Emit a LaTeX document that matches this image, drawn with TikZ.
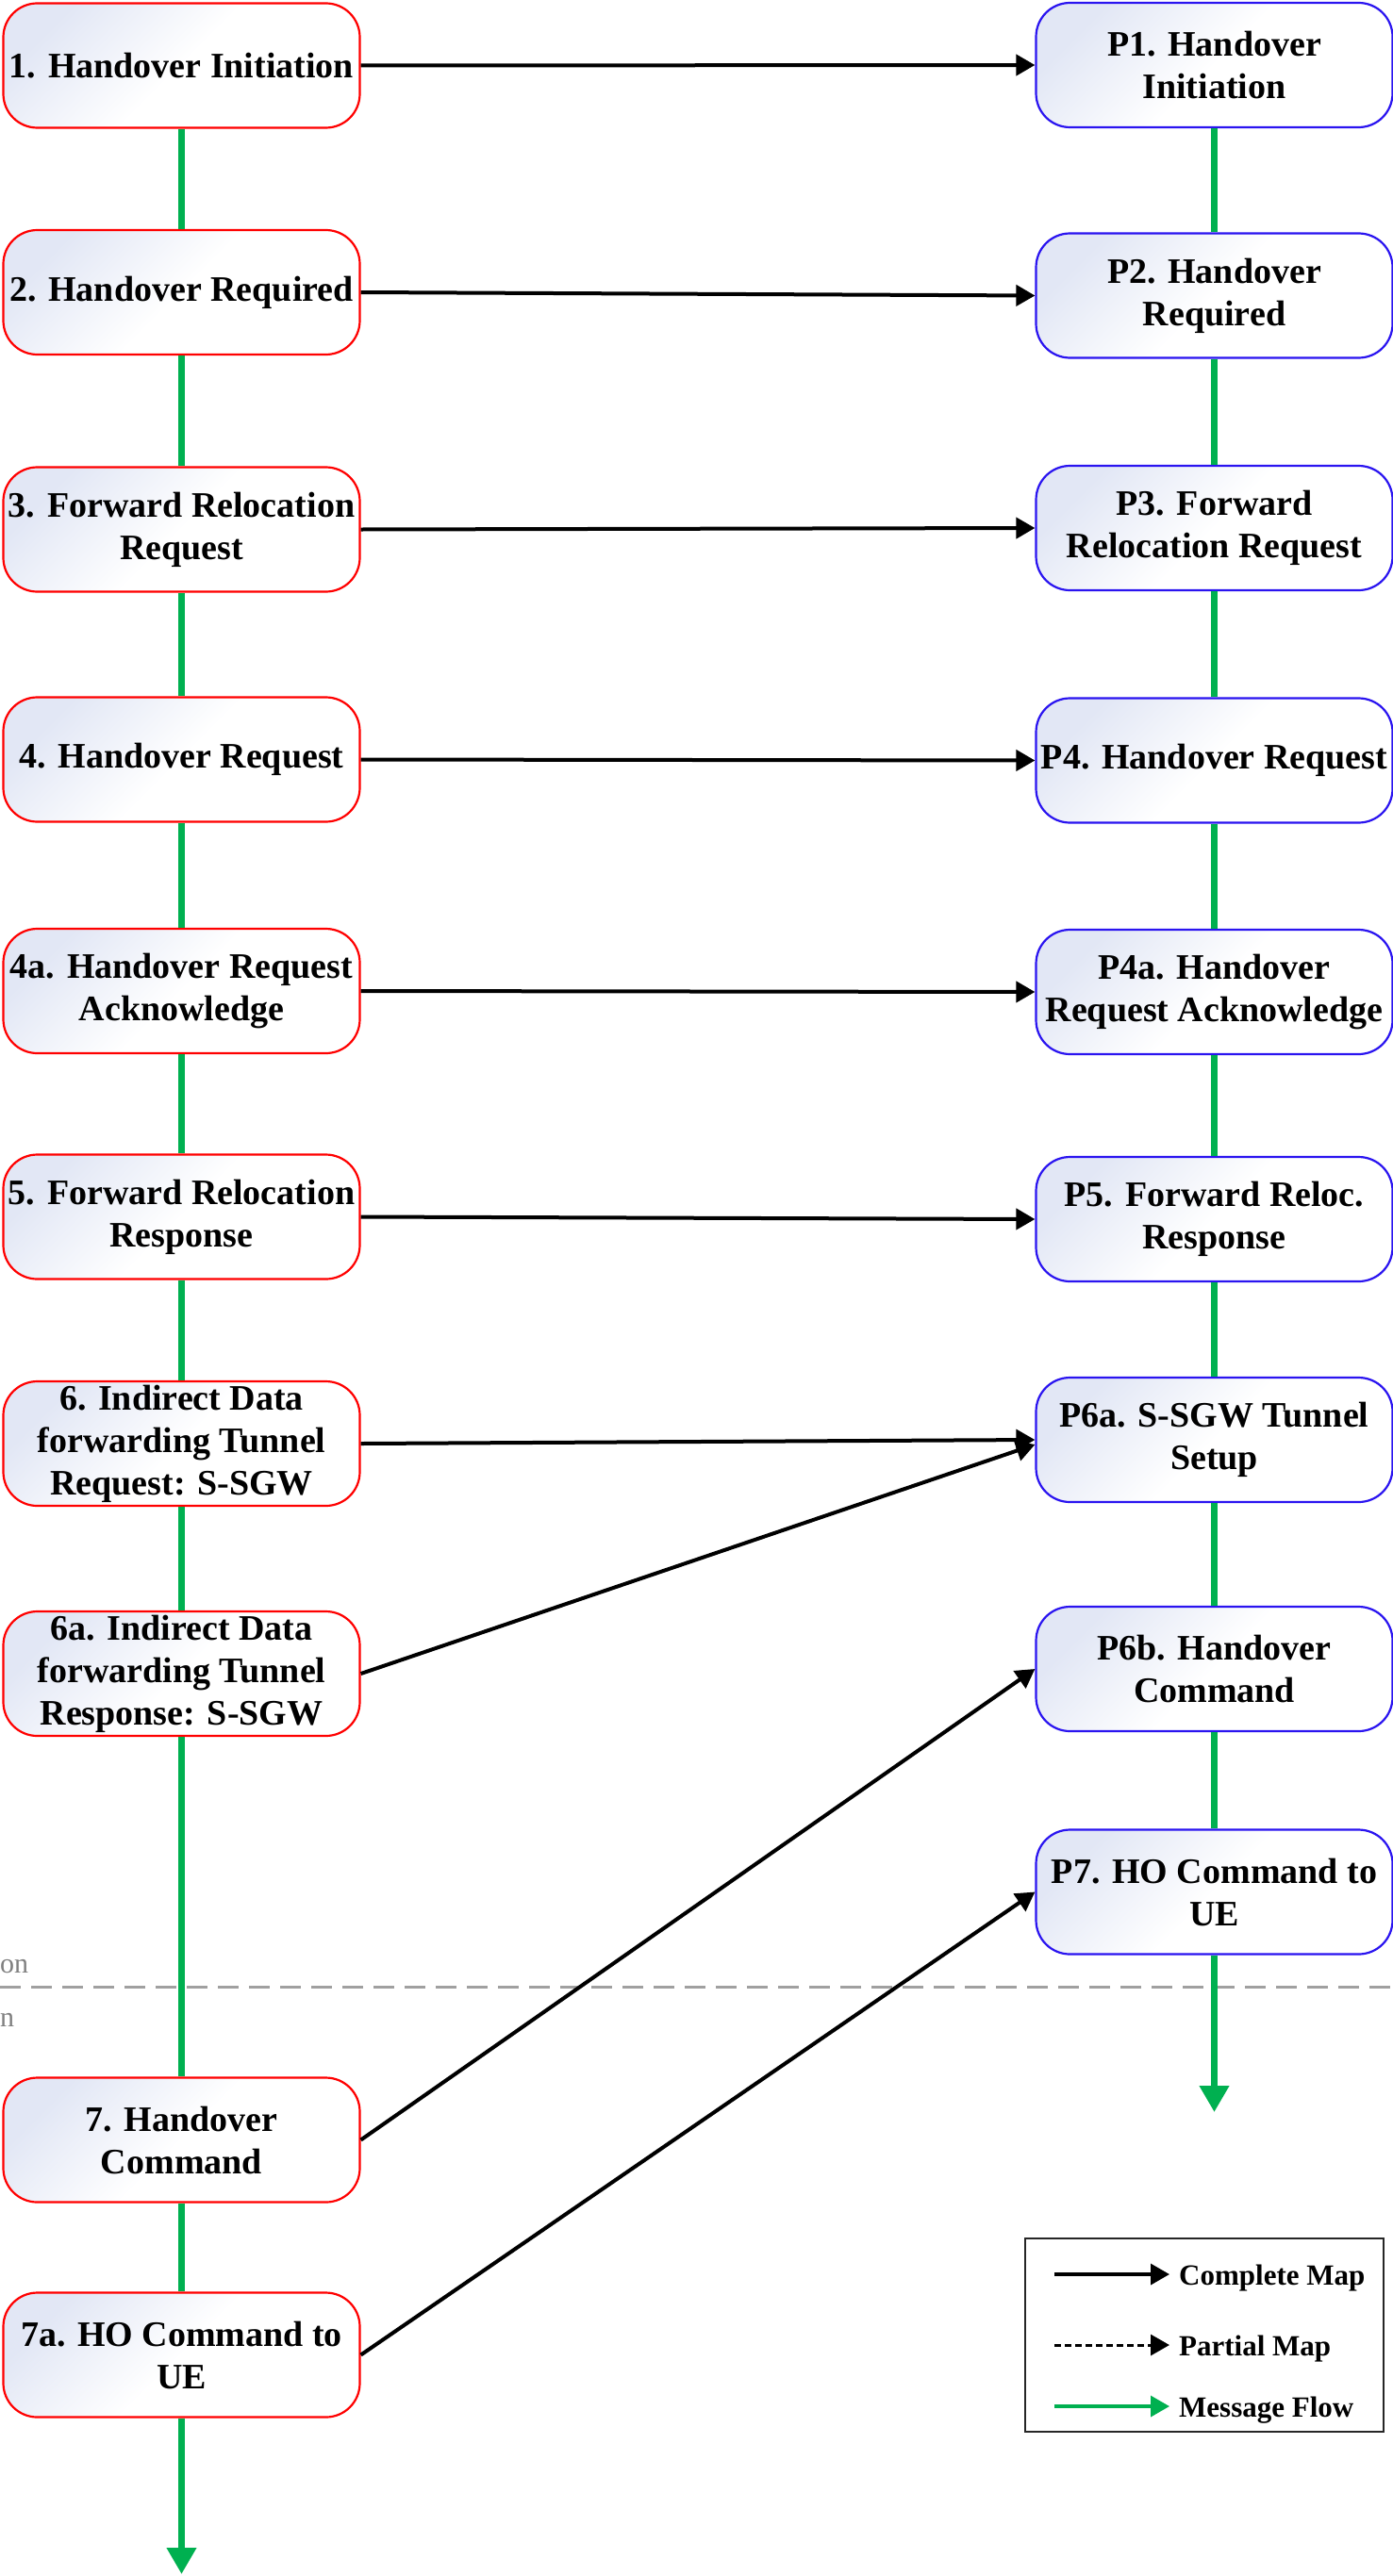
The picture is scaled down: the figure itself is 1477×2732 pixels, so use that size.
\documentclass[tikz,border=0pt]{standalone}
\usepackage{fontspec}
\setmainfont{Liberation Serif}
\usetikzlibrary{arrows.meta,calc}
\definecolor{flowgreen}{HTML}{00B050}
\definecolor{leftred}{HTML}{FF0000}
\definecolor{rightblue}{HTML}{2A14F0}
\definecolor{boxtint}{HTML}{E2E7F5}
\definecolor{sepgray}{HTML}{A0A0A0}
\tikzset{
  basebox/.style={rounded corners=36pt, line width=2.2pt, minimum width=378pt, minimum height=132pt,
    inner sep=0pt, align=center, font=\fontsize{38}{45}\selectfont\bfseries,
    top color=boxtint, bottom color=white, middle color=white, shading angle=45},
  lbox/.style={basebox, draw=leftred},
  rbox/.style={basebox, draw=rightblue},
  maparrow/.style={line width=4pt, -{Triangle[length=20pt,width=22pt]}},
  partarrow/.style={line width=3pt, dash pattern=on 7pt off 4pt, -{Triangle[length=20pt,width=22pt]}},
  flowline/.style={line width=7pt, draw=flowgreen},
  flowarrow/.style={flowline, -{Triangle[length=28pt,width=30pt]}},
  legtext/.style={anchor=base west, inner sep=0pt, font=\fontsize{31}{36}\selectfont\bfseries},
  sidetext/.style={anchor=base west, inner sep=0pt, text=sepgray!80!black, font=\fontsize{30}{36}\selectfont}
}
\begin{document}
\begin{tikzpicture}[x=1pt,y=-1pt]
\useasboundingbox[fill=white] (0,0) rectangle (1477,2732);

% separator
\draw[sepgray, line width=3pt, dash pattern=on 22pt off 11pt] (0,2107) -- (1477,2107);
\node[sidetext] (sideA) at (0,2092) {on};
\node[sidetext] (sideB) at (0,2149) {n};

% left column
\node[lbox] (n1)  at (192.5,69.5)  {1. Handover Initiation};
\node[lbox] (n2)  at (192.5,310)   {2. Handover Required};
\node[lbox] (n3)  at (192.5,561.5) {3. Forward Relocation\\Request};
\node[lbox] (n4)  at (192.5,805.5) {4. Handover Request};
\node[lbox] (n4a) at (192.5,1051)  {4a. Handover Request\\Acknowledge};
\node[lbox] (n5)  at (192.5,1290.5){5. Forward Relocation\\Response};
\node[lbox] (n6)  at (192.5,1531)  {6. Indirect Data\\forwarding Tunnel\\Request: S-SGW};
\node[lbox] (n6a) at (192.5,1775)  {6a. Indirect Data\\forwarding Tunnel\\Response: S-SGW};
\node[lbox] (n7)  at (192.5,2269.5){7. Handover\\Command};
\node[lbox] (n7a) at (192.5,2497.5){7a. HO Command to\\UE};
\coordinate (lend) at (192.5,2730);

% right column
\node[rbox] (p1)  at (1287.5,69)    {P1. Handover\\Initiation};
\node[rbox] (p2)  at (1287.5,313.5) {P2. Handover\\Required};
\node[rbox] (p3)  at (1287.5,560)   {P3. Forward\\Relocation Request};
\node[rbox] (p4)  at (1287.5,806.5) {P4. Handover Request};
\node[rbox] (p4a) at (1287.5,1052)  {P4a. Handover\\Request Acknowledge};
\node[rbox] (p5)  at (1287.5,1293)  {P5. Forward Reloc.\\Response};
\node[rbox] (p6a) at (1287.5,1527)  {P6a. S-SGW Tunnel\\Setup};
\node[rbox] (p6b) at (1287.5,1770)  {P6b. Handover\\Command};
\node[rbox] (p7)  at (1287.5,2006.5){P7. HO Command to\\UE};
\coordinate (rend) at (1287.5,2240);

% message flow (green)
\foreach \a/\b in {n1/n2,n2/n3,n3/n4,n4/n4a,n4a/n5,n5/n6,n6/n6a,n6a/n7,n7/n7a,
                   p1/p2,p2/p3,p3/p4,p4/p4a,p4a/p5,p5/p6a,p6a/p6b,p6b/p7}
  \draw[flowline] (\a.south) -- (\b.north);
\draw[flowarrow] (n7a.south) -- (lend);
\draw[flowarrow] (p7.south) -- (rend);

% complete maps
\draw[maparrow] (n1.east) -- (p1.west);
\draw[maparrow] (n2.east) -- (p2.west);
\draw[maparrow] (n3.east) -- (p3.west);
\draw[maparrow] (n4.east) -- (p4.west);
\draw[maparrow] (n4a.east) -- (p4a.west);
\draw[maparrow] (n5.east) -- (p5.west);
\draw[maparrow] (n6.east) -- (p6a.west);
\draw[maparrow] (n6a.east) -- ($(p6a.west)+(0,5)$);
\draw[maparrow] (n7.east) -- (p6b.west);
\draw[maparrow] (n7a.east) -- (p7.west);

% legend
\node[draw=black!85, line width=2pt, minimum width=380pt, minimum height=205pt, inner sep=0pt] (legend) at (1277,2476.5) {};
\coordinate (l1s) at (1118,2412); \coordinate (l1e) at (1240,2412);
\coordinate (l2s) at (1118,2487); \coordinate (l2e) at (1240,2487);
\coordinate (l3s) at (1118,2552); \coordinate (l3e) at (1240,2552);
\draw[line width=3.5pt, -{Triangle[length=20pt,width=22pt]}] (l1s) -- (l1e);
\draw[partarrow] (l2s) -- (l2e);
\draw[line width=3.5pt, draw=flowgreen, -{Triangle[length=20pt,width=22pt]}] (l3s) -- (l3e);
\node[legtext] (t1) at (1250,2423) {Complete Map};
\node[legtext] (t2) at (1250,2498) {Partial Map};
\node[legtext] (t3) at (1250,2563) {Message Flow};
\end{tikzpicture}
\end{document}
